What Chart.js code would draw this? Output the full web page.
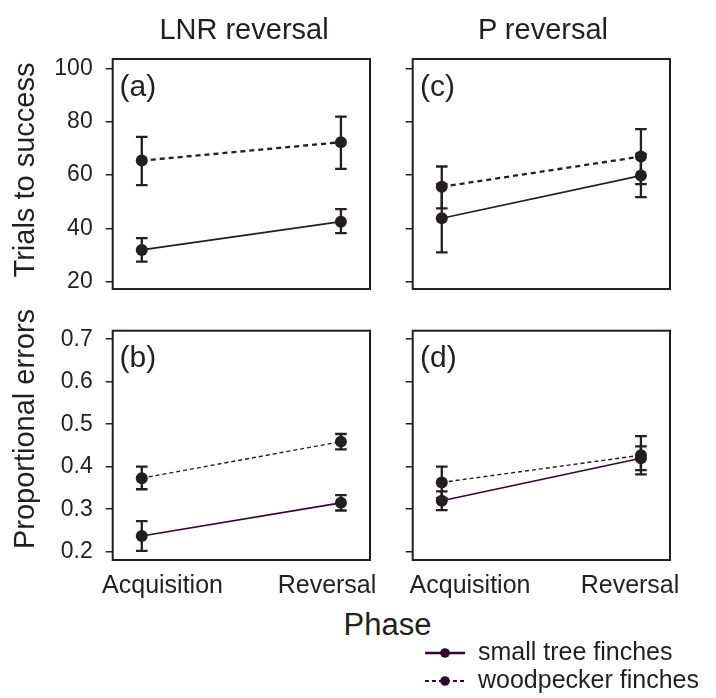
<!DOCTYPE html>
<html>
<head>
<meta charset="utf-8">
<script src="https://cdn.jsdelivr.net/npm/chart.js@4.4.1/dist/chart.umd.min.js"></script>
<style>
  body { margin: 0; background: #fff; }
  #wrap { position: relative; width: 716px; height: 698px; overflow: hidden; font-family: "Liberation Sans", Arial, sans-serif; color: #231f20; }
  #wrap canvas { position: absolute; }
  .t { position: absolute; white-space: nowrap; line-height: 1; }
  .c { transform: translateX(-50%); }
  .rot { transform: translate(-50%, -50%) rotate(-90deg); }
</style>
</head>
<body>
<div id="wrap">
  <canvas id="pa" width="380" height="300" style="left:0;top:0"></canvas>
  <canvas id="pc" width="300" height="300" style="left:380px;top:0"></canvas>
  <canvas id="pb" width="380" height="280" style="left:0;top:300px"></canvas>
  <canvas id="pd" width="300" height="280" style="left:380px;top:300px"></canvas>

  <div class="t c" style="left:244px;top:14.5px;font-size:29px">LNR reversal</div>
  <div class="t c" style="left:543px;top:14.5px;font-size:29px">P reversal</div>

  <div class="t" style="left:119.5px;top:70.6px;font-size:30px">(a)</div>
  <div class="t" style="left:420px;top:70.6px;font-size:30px">(c)</div>
  <div class="t" style="left:119.5px;top:342.3px;font-size:30px">(b)</div>
  <div class="t" style="left:420px;top:342.3px;font-size:30px">(d)</div>

  <div class="t rot" style="left:24px;top:170px;font-size:29px">Trials to success</div>
  <div class="t rot" style="left:24px;top:429px;font-size:29px">Proportional errors</div>

  <div id="xlabels"></div>
  <div class="t c" style="left:387.5px;top:608.8px;font-size:31px">Phase</div>

  <svg style="position:absolute;left:0;top:0" width="716" height="698">
    <line x1="425" y1="653" x2="465" y2="653" stroke="#2e0b2e" stroke-width="2.5"/>
    <circle cx="445" cy="653" r="4.8" fill="#2e0b2e"/>
    <line x1="425" y1="681" x2="465" y2="681" stroke="#2e0b2e" stroke-width="2" stroke-dasharray="4 3"/>
    <circle cx="445" cy="681" r="4.8" fill="#2e0b2e"/>
  </svg>
  <div id="legend"></div>
</div>

<script>
// categories and series
const phases = ['Acquisition', 'Reversal'];
const species = ['small tree finches', 'woodpecker finches'];
const trialTicks = [20, 40, 60, 80, 100];
const errorTicks = [0.2, 0.3, 0.4, 0.5, 0.6, 0.7];

// (a) LNR reversal - trials to success
const lnrTrialsSmall = [31.9, 42.5];
const lnrTrialsSmallLo = [27.5, 38.2];
const lnrTrialsSmallHi = [36.3, 47.2];
const lnrTrialsWood = [65.4, 72.3];
const lnrTrialsWoodLo = [56.2, 62.3];
const lnrTrialsWoodHi = [74.3, 81.9];

// (c) P reversal - trials to success
const pTrialsSmall = [43.8, 59.8];
const pTrialsSmallLo = [31.0, 51.7];
const pTrialsSmallHi = [56.6, 67.9];
const pTrialsWood = [55.6, 66.9];
const pTrialsWoodLo = [47.5, 56.6];
const pTrialsWoodHi = [63.2, 77.2];

// (b) LNR reversal - proportional errors
const lnrErrSmall = [0.237, 0.315];
const lnrErrSmallLo = [0.202, 0.297];
const lnrErrSmallHi = [0.272, 0.333];
const lnrErrWood = [0.373, 0.459];
const lnrErrWoodLo = [0.347, 0.441];
const lnrErrWoodHi = [0.400, 0.477];

// (d) P reversal - proportional errors
const pErrSmall = [0.320, 0.420];
const pErrSmallLo = [0.298, 0.392];
const pErrSmallHi = [0.342, 0.448];
const pErrWood = [0.363, 0.427];
const pErrWoodLo = [0.326, 0.382];
const pErrWoodHi = [0.400, 0.472];

const ink = '#231f20';
const purple = '#2e0b2e';
const font = '"Liberation Sans", Arial, sans-serif';

function toPoints(arr) {
  return arr.map((v, i) => ({ x: i + 1, y: v }));
}

// error bars drawn from the y scale
const errorBars = {
  id: 'errorBars',
  beforeDatasetsDraw(chart) {
    const ctx = chart.ctx;
    const x = chart.scales.x, y = chart.scales.y;
    ctx.save();
    ctx.strokeStyle = ink;
    ctx.lineWidth = 2.3;
    chart.data.datasets.forEach(ds => {
      ds.lo.forEach((lo, i) => {
        const px = x.getPixelForValue(i + 1);
        const top = y.getPixelForValue(ds.hi[i]);
        const bot = y.getPixelForValue(lo);
        ctx.beginPath();
        ctx.moveTo(px, top); ctx.lineTo(px, bot);
        ctx.moveTo(px - 5.8, top); ctx.lineTo(px + 5.8, top);
        ctx.moveTo(px - 5.8, bot); ctx.lineTo(px + 5.8, bot);
        ctx.stroke();
      });
    });
    ctx.restore();
  }
};

const frame = {
  id: 'frame',
  afterDraw(chart) {
    const a = chart.chartArea;
    chart.ctx.save();
    chart.ctx.strokeStyle = ink;
    chart.ctx.lineWidth = 2;
    chart.ctx.strokeRect(a.left, a.top, a.right - a.left, a.bottom - a.top);
    chart.ctx.restore();
  }
};

function panel(id, o) {
  return new Chart(document.getElementById(id), {
    type: 'line',
    data: {
      datasets: [{
        label: species[0],
        data: toPoints(o.small), lo: o.smallLo, hi: o.smallHi,
        borderColor: o.solidColor, borderWidth: 1.7,
        pointRadius: 6, pointBackgroundColor: ink, pointBorderColor: ink, pointBorderWidth: 0
      }, {
        label: species[1],
        data: toPoints(o.wood), lo: o.woodLo, hi: o.woodHi,
        borderColor: ink, borderWidth: o.dashWidth, borderDash: o.dash,
        pointRadius: 6, pointBackgroundColor: ink, pointBorderColor: ink, pointBorderWidth: 0
      }]
    },
    options: {
      responsive: false,
      animation: false,
      events: [],
      layout: { padding: o.pad },
      plugins: { legend: { display: false }, tooltip: { enabled: false } },
      scales: {
        x: { type: 'linear', min: 0.854, max: 2.146, display: false },
        y: {
          min: o.min, max: o.max,
          afterBuildTicks: s => { s.ticks = o.ticks.map(v => ({ value: v })); },
          afterFit: s => { s.width = o.axisWidth; s.paddingTop = 0; s.paddingBottom = 0; },
          border: { display: false },
          grid: { drawOnChartArea: false, tickLength: 7, color: ink, lineWidth: 1.5 },
          ticks: {
            display: o.labels, padding: 13, color: ink,
            font: { family: font, size: 23 },
            callback: v => v.toFixed(o.decimals)
          }
        }
      }
    },
    plugins: [errorBars, frame]
  });
}

panel('pa', {
  small: lnrTrialsSmall, smallLo: lnrTrialsSmallLo, smallHi: lnrTrialsSmallHi,
  wood: lnrTrialsWood, woodLo: lnrTrialsWoodLo, woodHi: lnrTrialsWoodHi,
  solidColor: ink, dash: [5, 4], dashWidth: 2.3,
  min: 17.26, max: 103.5, ticks: trialTicks, decimals: 0, labels: true,
  pad: { top: 59, right: 10, bottom: 11, left: 0 }, axisWidth: 112.7
});
panel('pc', {
  small: pTrialsSmall, smallLo: pTrialsSmallLo, smallHi: pTrialsSmallHi,
  wood: pTrialsWood, woodLo: pTrialsWoodLo, woodHi: pTrialsWoodHi,
  solidColor: ink, dash: [5, 4], dashWidth: 2.3,
  min: 17.26, max: 103.5, ticks: trialTicks, decimals: 0, labels: false,
  pad: { top: 59, right: 10, bottom: 11, left: 0 }, axisWidth: 32.7
});
panel('pb', {
  small: lnrErrSmall, smallLo: lnrErrSmallLo, smallHi: lnrErrSmallHi,
  wood: lnrErrWood, woodLo: lnrErrWoodLo, woodHi: lnrErrWoodHi,
  solidColor: purple, dash: [4, 3], dashWidth: 1.4,
  min: 0.1805, max: 0.720, ticks: errorTicks, decimals: 1, labels: true,
  pad: { top: 30.7, right: 10, bottom: 20, left: 0 }, axisWidth: 112.7
});
panel('pd', {
  small: pErrSmall, smallLo: pErrSmallLo, smallHi: pErrSmallHi,
  wood: pErrWood, woodLo: pErrWoodLo, woodHi: pErrWoodHi,
  solidColor: purple, dash: [4, 3], dashWidth: 1.4,
  min: 0.1805, max: 0.720, ticks: errorTicks, decimals: 1, labels: false,
  pad: { top: 30.7, right: 10, bottom: 20, left: 0 }, axisWidth: 32.7
});

// phase labels under the bottom panels
const xLabelCenters = [[162.5, 327], [470, 630]];
let html = '';
xLabelCenters.forEach(pair => {
  pair.forEach((cx, i) => {
    html += '<div class="t c" style="left:' + cx + 'px;top:571.8px;font-size:25px">' + phases[i] + '</div>';
  });
});
document.getElementById('xlabels').innerHTML = html;

document.getElementById('legend').innerHTML =
  '<div class="t" style="left:478px;top:638.8px;font-size:25px">' + species[0] + '</div>' +
  '<div class="t" style="left:478px;top:666.8px;font-size:25px">' + species[1] + '</div>';
</script>
</body>
</html>
